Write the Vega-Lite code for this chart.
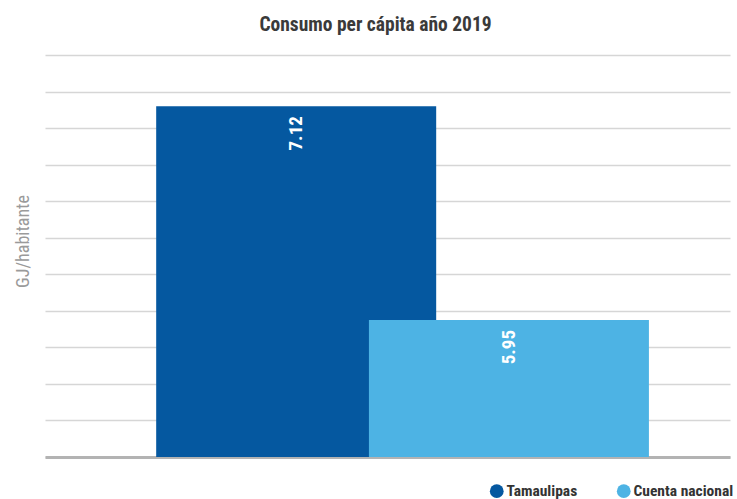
{
  "$schema": "https://vega.github.io/schema/vega-lite/v6.json",
  "width": 685,
  "height": 402,
  "autosize": {"type": "none"},
  "padding": {"left": 45, "top": 55, "right": 7, "bottom": 42},
  "background": "white",
  "config": {
    "view": {"stroke": null},
    "font": "Roboto Condensed, DejaVu Sans Condensed, Liberation Sans Narrow, Roboto, sans-serif"
  },
  "title": {
    "text": "Consumo per cápita año 2019",
    "font": "Roboto Condensed, DejaVu Sans Condensed, Liberation Sans Narrow, Roboto, sans-serif",
    "fontSize": 19.5,
    "fontWeight": "bold",
    "color": "#3a3a3a",
    "anchor": "middle",
    "dx": -12,
    "offset": 20
  },
  "data": {
    "values": [
      {"region": "Tamaulipas", "valor": 7.12},
      {"region": "Cuenta nacional", "valor": 5.95}
    ]
  },
  "encoding": {
    "x": {
      "field": "region",
      "type": "nominal",
      "sort": ["Tamaulipas", "Cuenta nacional"],
      "scale": {"type": "band", "paddingInner": 0, "paddingOuter": 0.61, "align": 0.558},
      "axis": {
        "title": null,
        "labels": false,
        "ticks": false,
        "grid": false,
        "domain": true,
        "domainColor": "#b3b3b3",
        "domainWidth": 3
      }
    },
    "y": {
      "field": "valor",
      "type": "quantitative",
      "scale": {"domain": [5.2, 7.4], "zero": false, "nice": false},
      "axis": {
        "title": "GJ/habitante",
        "titleFont": "Roboto Condensed, DejaVu Sans Condensed, Liberation Sans Narrow, Roboto, sans-serif",
        "titleFontSize": 18,
        "titleFontWeight": "normal",
        "titleColor": "#9a9a9a",
        "titlePadding": 13,
        "titleY": 186,
        "values": [5.2, 5.4, 5.6, 5.8, 6.0, 6.2, 6.4, 6.6, 6.8, 7.0, 7.2, 7.4],
        "labels": false,
        "ticks": false,
        "domain": false,
        "grid": true,
        "gridColor": "#d6d6d6",
        "gridWidth": 1.5
      }
    }
  },
  "layer": [
    {
      "mark": {"type": "bar", "width": 280, "clip": true},
      "encoding": {
        "color": {
          "field": "region",
          "type": "nominal",
          "sort": ["Tamaulipas", "Cuenta nacional"],
          "scale": {"domain": ["Tamaulipas", "Cuenta nacional"], "range": ["#0558a0", "#4db3e4"]},
          "legend": {
            "title": null,
            "orient": "none",
            "legendX": 444,
            "legendY": 428,
            "direction": "horizontal",
            "symbolType": "circle",
            "symbolSize": 190,
            "symbolStrokeWidth": 0,
            "symbolOpacity": 1,
            "labelFont": "Roboto Condensed, DejaVu Sans Condensed, Liberation Sans Narrow, Roboto, sans-serif",
            "labelFontSize": 15.5,
            "labelFontWeight": "bold",
            "labelColor": "#333333",
            "labelOffset": 2,
            "labelLimit": 300,
            "columnPadding": 38
          }
        }
      }
    },
    {
      "mark": {
        "type": "text",
        "angle": -90,
        "align": "right",
        "baseline": "middle",
        "dx": -10,
        "color": "white",
        "font": "Roboto Condensed, DejaVu Sans Condensed, Liberation Sans Narrow, Roboto, sans-serif",
        "fontSize": 19,
        "fontWeight": "bold"
      },
      "encoding": {
        "text": {"field": "valor", "type": "quantitative", "format": ".2f"}
      }
    }
  ]
}
